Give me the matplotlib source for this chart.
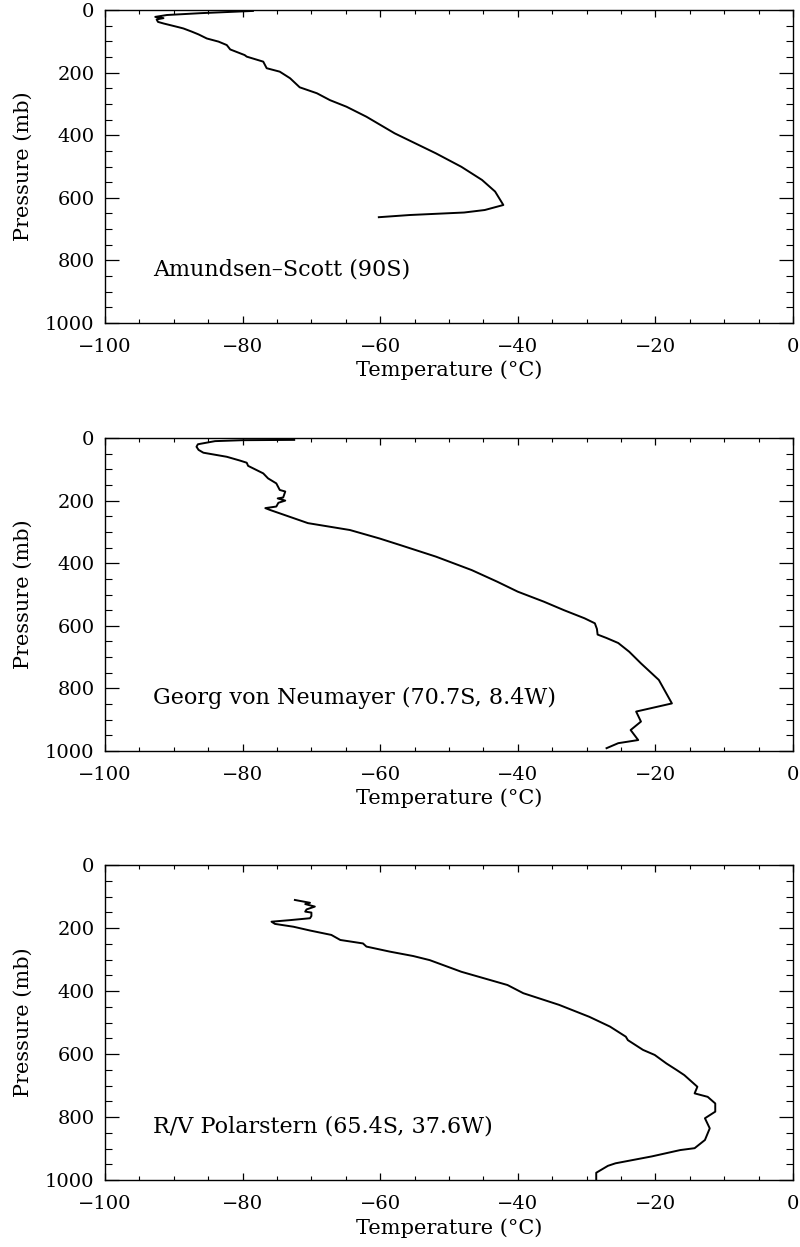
import matplotlib
matplotlib.use("Agg")
import matplotlib.pyplot as plt
from matplotlib.ticker import MultipleLocator

# ---------------- data ----------------
amundsen_T = [-78.5, -86.0, -91.0, -92.7, -91.5, -92.5, -92.3, -91.5, -89.3, -88.6,
              -87.4, -86.4, -85.2, -83.5, -82.3, -81.8, -79.7, -79.4, -77.0, -76.5,
              -74.6, -73.1, -71.7, -69.2, -67.3, -64.9, -62.0, -57.9, -54.9, -51.9,
              -48.2, -45.2, -43.3, -42.1, -44.8, -47.8, -55.7, -60.2]
amundsen_P = [3, 10, 16, 22, 26, 30, 38, 43, 55, 59,
              69, 78, 91, 101, 112, 126, 144, 149, 165, 186,
              197, 218, 247, 266, 288, 309, 341, 394, 426, 458,
              501, 543, 580, 623, 639, 647, 655, 662]

neumayer_T = [-72.5, -80.0, -84.0, -86.5, -86.7, -86.4, -85.7, -82.3, -80.4, -79.4,
              -79.2, -77.0, -76.3, -75.1, -74.6, -73.8, -74.1, -74.9, -73.8, -74.8,
              -75.1, -76.7, -76.0, -70.5, -64.4, -60.1, -57.1, -51.9, -46.7, -43.0,
              -40.0, -36.2, -33.3, -30.3, -28.8, -28.5, -28.4, -27.1, -25.4, -23.8,
              -22.1, -19.5, -17.6, -22.8, -22.1, -23.6, -22.5, -25.4, -27.1]
neumayer_P = [6, 7, 10, 20, 28, 38, 47, 60, 72, 79,
              89, 113, 129, 145, 166, 171, 190, 193, 200, 207,
              219, 224, 230, 272, 294, 321, 342, 379, 422, 459,
              491, 523, 550, 576, 592, 610, 628, 639, 655, 683,
              720, 773, 848, 874, 906, 933, 965, 975, 991]

polarstern_T = [-72.4, -70.2, -70.9, -69.5, -70.7, -70.9, -70.0, -70.0, -70.2, -73.1,
                -75.8, -75.3, -72.6, -70.2, -67.1, -65.8, -62.5, -62.0, -58.6, -55.2,
                -52.8, -48.2, -41.5, -39.2, -34.0, -29.6, -26.6, -24.3, -24.0, -21.8,
                -20.1, -18.4, -16.9, -15.8, -13.9, -14.3, -12.4, -11.3, -11.3, -12.8,
                -12.1, -12.8, -14.3, -16.4, -20.5, -25.8, -26.9, -28.6, -28.6]
polarstern_P = [111, 120, 124, 132, 141, 148, 151, 162, 169, 175,
                180, 187, 196, 208, 222, 238, 249, 259, 275, 289,
                302, 339, 381, 407, 444, 482, 513, 545, 556, 587,
                603, 630, 651, 667, 704, 725, 736, 757, 783, 804,
                836, 873, 899, 905, 925, 947, 955, 977, 1000]

station_labels = ["Amundsen\u2013Scott (90S)",
                  "Georg von Neumayer (70.7S, 8.4W)",
                  "R/V Polarstern (65.4S, 37.6W)"]
x_ticks = [-100, -80, -60, -40, -20, 0]
y_ticks = [0, 200, 400, 600, 800, 1000]
x_label = "Temperature (\u00b0C)"
y_label = "Pressure (mb)"

# ---------------- figure ----------------
plt.rcParams['font.family'] = ['DejaVu Serif']
plt.rcParams['axes.linewidth'] = 1.0

fig = plt.figure(figsize=(8.0, 12.47), dpi=100)

# axes rectangles [left, bottom, width, height] in figure fraction
rects = [
    [105 / 800, 1 - 323 / 1247, 688 / 800, 313 / 1247],
    [105 / 800, 1 - 751 / 1247, 688 / 800, 313 / 1247],
    [105 / 800, 1 - 1180 / 1247, 688 / 800, 315 / 1247],
]
profiles = [(amundsen_T, amundsen_P), (neumayer_T, neumayer_P),
            (polarstern_T, polarstern_P)]

for rect, (T, P), lab in zip(rects, profiles, station_labels):
    ax = fig.add_axes(rect)
    ax.plot(T, P, color='black', lw=1.4, solid_joinstyle='round')
    ax.set_xlim(-100, 0)
    ax.set_ylim(1000, 0)
    ax.set_xticks(x_ticks)
    ax.set_yticks(y_ticks)
    ax.xaxis.set_minor_locator(MultipleLocator(5))
    ax.yaxis.set_minor_locator(MultipleLocator(50))
    ax.tick_params(which='both', direction='in', top=True, right=True,
                   labelsize=14, color='black')
    ax.tick_params(axis='x', which='major', length=5, width=0.9, pad=10.5)
    ax.tick_params(axis='x', which='minor', length=3, width=0.8)
    ax.tick_params(axis='y', which='major', length=10, width=0.9, pad=7.5)
    ax.tick_params(axis='y', which='minor', length=5, width=0.8)
    ax.set_xticklabels([f"{v:d}".replace('-', '\u2212') for v in x_ticks])
    ax.set_xlabel(x_label, fontsize=15, va='center')
    ax.set_ylabel(y_label, fontsize=15, va='center')
    ax.xaxis.set_label_coords(0.5, -0.152)
    ax.yaxis.set_label_coords(-0.119, 0.5)
    ax.text(-93, 830, lab, fontsize=16, va='center', ha='left')

fig.savefig("out.png", dpi=100)
